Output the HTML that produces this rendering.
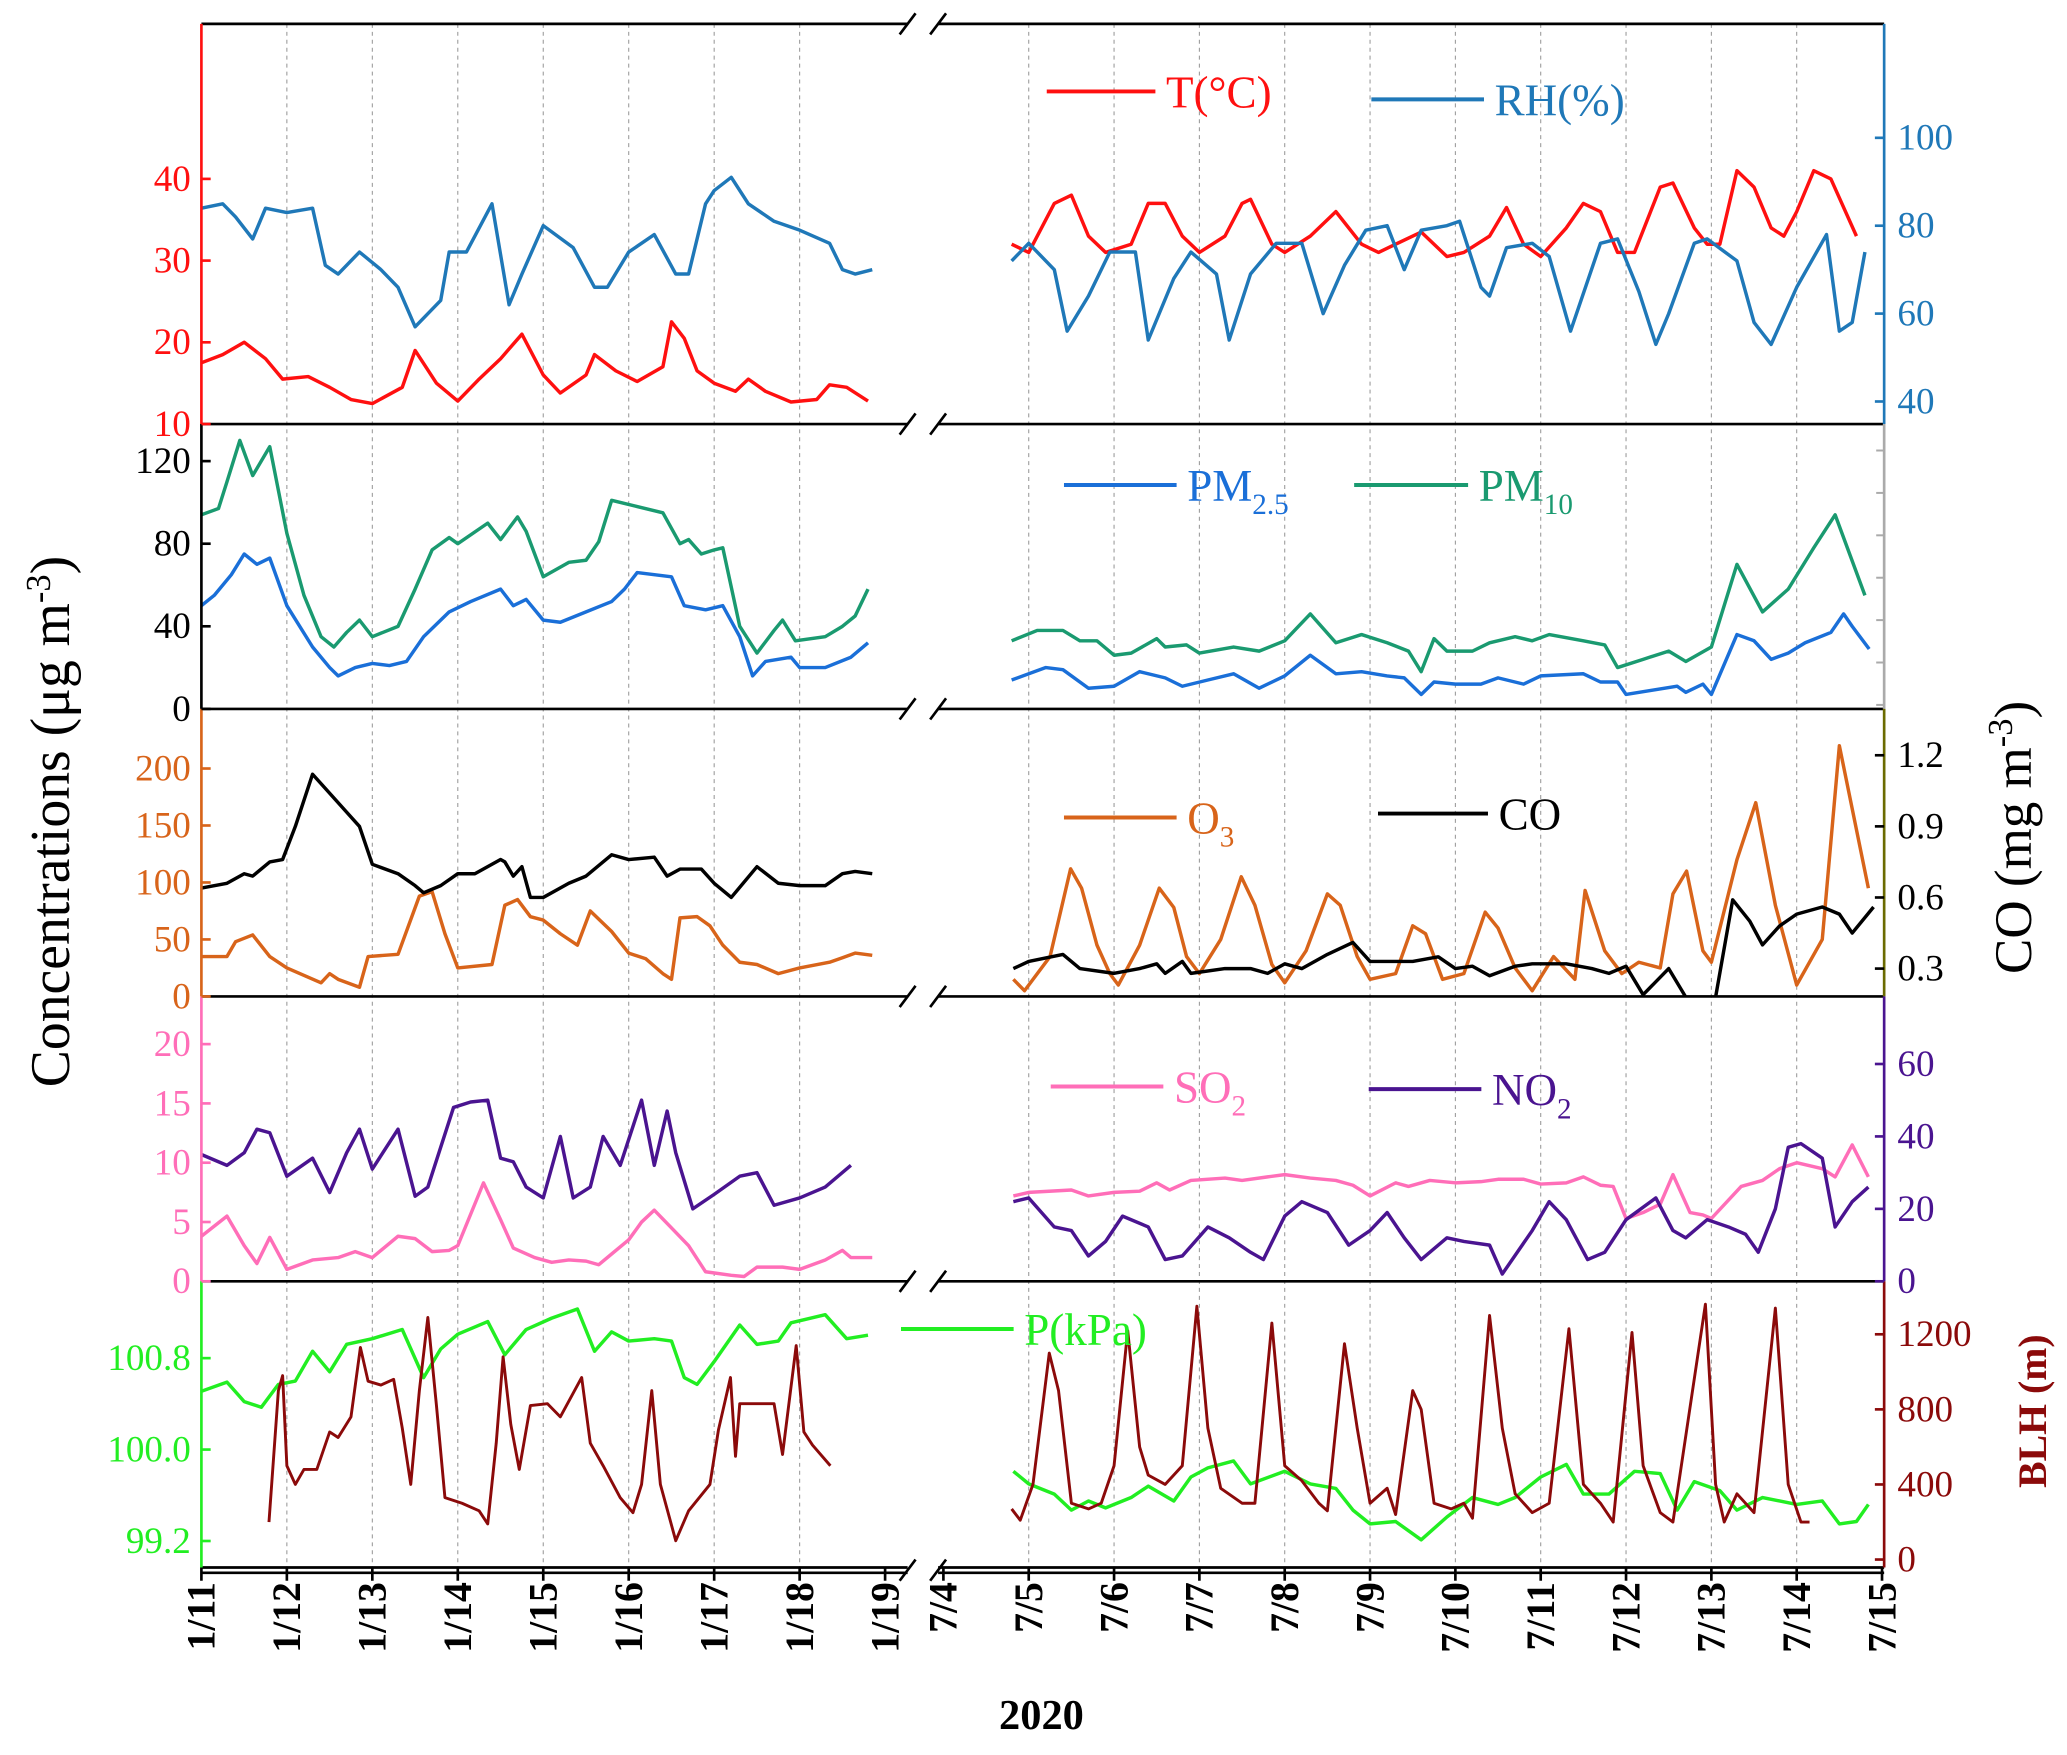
<!DOCTYPE html>
<html><head><meta charset="utf-8"><style>
html,body{margin:0;padding:0;background:#fff}
svg{display:block}
text{font-family:"Liberation Serif",serif}
</style></head><body>
<svg id="chart" width="2067" height="1755" viewBox="0 0 1560 1324.5" xmlns="http://www.w3.org/2000/svg"></svg>
<script>
// ---------- DATA (days since 1/11 for winter, since 7/4 for summer) ----------
const wTempT=[0,0.25,0.5,0.75,0.95,1.25,1.5,1.75,2.0,2.35,2.5,2.75,3.0,3.25,3.5,3.75,4.0,4.2,4.5,4.6,4.85,5.1,5.4,5.5,5.65,5.8,6.0,6.25,6.4,6.6,6.9,7.2,7.35,7.55,7.8];
const wTempV=[17.5,18.5,20,18,15.5,15.8,14.5,13,12.5,14.5,19,15,12.8,15.5,18,21,16,13.8,16,18.5,16.5,15.2,17,22.5,20.5,16.5,15,14,15.5,14,12.7,13,14.8,14.5,12.8];
const wRhT=[0,0.25,0.4,0.6,0.75,1.0,1.3,1.45,1.6,1.85,2.1,2.3,2.5,2.8,2.9,3.1,3.4,3.6,3.75,4.0,4.35,4.6,4.75,5.0,5.3,5.55,5.7,5.9,6.0,6.2,6.4,6.7,7.0,7.35,7.5,7.65,7.85];
const wRhV=[84,85,82,77,84,83,84,71,69,74,70,66,57,63,74,74,85,62,69,80,75,66,66,74,78,69,69,85,88,91,85,81,79,76,70,69,70];
const sTempT=[0.8,1.0,1.3,1.5,1.7,1.9,2.2,2.4,2.6,2.8,3.0,3.3,3.5,3.6,3.85,4.0,4.3,4.6,4.9,5.1,5.3,5.6,5.9,6.1,6.4,6.6,6.8,7.0,7.3,7.5,7.7,7.9,8.1,8.4,8.55,8.8,8.95,9.1,9.3,9.5,9.7,9.85,10.0,10.2,10.4,10.7];
const sTempV=[32,31,37,38,33,31,32,37,37,33,31,33,37,37.5,32,31,33,36,32,31,32,33.5,30.5,31,33,36.5,32,30.5,34,37,36,31,31,39,39.5,34,32,32,41,39,34,33,36,41,40,33];
const sRhT=[0.8,1.0,1.3,1.45,1.7,1.95,2.25,2.4,2.7,2.9,3.2,3.35,3.6,3.9,4.2,4.45,4.7,4.95,5.2,5.4,5.6,5.9,6.05,6.3,6.4,6.6,6.9,7.1,7.35,7.7,7.9,8.15,8.35,8.5,8.8,8.95,9.3,9.5,9.7,10.0,10.35,10.5,10.65,10.8];
const sRhV=[72,76,70,56,64,74,74,54,68,74,69,54,69,76,76,60,71,79,80,70,79,80,81,66,64,75,76,73,56,76,77,65,53,60,76,77,72,58,53,66,78,56,58,74];

const wPm25T=[0,0.15,0.35,0.5,0.65,0.8,1.0,1.3,1.5,1.6,1.8,2.0,2.2,2.4,2.6,2.9,3.15,3.5,3.65,3.8,4.0,4.2,4.5,4.8,4.95,5.1,5.5,5.65,5.9,6.1,6.3,6.45,6.6,6.9,7.0,7.3,7.6,7.8];
const wPm25V=[50,55,65,75,70,73,50,30,20,16,20,22,21,23,35,47,52,58,50,53,43,42,47,52,58,66,64,50,48,50,35,16,23,25,20,20,25,32];
const wPm10T=[0,0.2,0.3,0.45,0.6,0.8,1.0,1.2,1.4,1.55,1.7,1.85,2.0,2.3,2.5,2.7,2.9,3.0,3.35,3.5,3.7,3.8,4.0,4.3,4.5,4.65,4.8,5.1,5.4,5.6,5.7,5.85,6.0,6.1,6.3,6.5,6.7,6.8,6.95,7.3,7.5,7.65,7.8];
const wPm10V=[94,97,110,130,113,127,85,55,35,30,37,43,35,40,58,77,83,80,90,82,93,86,64,71,72,81,101,98,95,80,82,75,77,78,40,27,38,43,33,35,40,45,58];
const sPm25T=[0.8,1.2,1.4,1.7,2.0,2.3,2.6,2.8,3.1,3.4,3.7,4.0,4.3,4.6,4.9,5.2,5.4,5.6,5.75,6.0,6.3,6.5,6.8,7.0,7.5,7.7,7.9,8.0,8.3,8.6,8.7,8.9,9.0,9.3,9.5,9.7,9.9,10.1,10.4,10.55,10.65,10.85];
const sPm25V=[14,20,19,10,11,18,15,11,14,17,10,16,26,17,18,16,15,7,13,12,12,15,12,16,17,13,13,7,9,11,8,12,7,36,33,24,27,32,37,46,40,29];
const sPm10T=[0.8,1.1,1.4,1.6,1.8,2.0,2.2,2.5,2.6,2.85,3.0,3.4,3.7,4.0,4.3,4.6,4.9,5.2,5.45,5.6,5.75,5.9,6.2,6.4,6.7,6.9,7.1,7.5,7.75,7.9,8.2,8.5,8.7,9.0,9.3,9.6,9.9,10.2,10.45,10.8];
const sPm10V=[33,38,38,33,33,26,27,34,30,31,27,30,28,33,46,32,36,32,28,18,34,28,28,32,35,33,36,33,31,20,24,28,23,30,70,47,58,78,94,55];

const wO3T=[0,0.3,0.4,0.6,0.8,1.0,1.4,1.5,1.6,1.85,1.95,2.3,2.55,2.7,2.85,3.0,3.4,3.55,3.7,3.85,4.0,4.2,4.4,4.55,4.8,5.0,5.2,5.4,5.5,5.6,5.8,5.95,6.1,6.3,6.5,6.75,7.0,7.35,7.5,7.65,7.85];
const wO3V=[35,35,48,54,35,25,12,20,15,8,35,37,88,92,55,25,28,80,85,70,67,55,45,75,57,38,33,20,15,69,70,62,45,30,28,20,25,30,34,38,36];
const wCoT=[0,0.3,0.5,0.6,0.8,0.95,1.1,1.3,1.45,1.7,1.85,2.0,2.3,2.5,2.6,2.8,3.0,3.2,3.5,3.55,3.65,3.75,3.85,4.0,4.3,4.5,4.8,5.0,5.3,5.45,5.6,5.85,6.0,6.2,6.5,6.75,7.0,7.3,7.5,7.65,7.85];
const wCoV=[0.64,0.66,0.70,0.69,0.75,0.76,0.90,1.12,1.06,0.96,0.90,0.74,0.70,0.65,0.62,0.65,0.70,0.70,0.76,0.75,0.69,0.73,0.60,0.60,0.66,0.69,0.78,0.76,0.77,0.69,0.72,0.72,0.66,0.60,0.73,0.66,0.65,0.65,0.70,0.71,0.70];
const sO3T=[0.82,0.95,1.25,1.49,1.62,1.8,1.95,2.05,2.3,2.53,2.7,2.85,3.0,3.25,3.49,3.65,3.85,4.0,4.25,4.5,4.65,4.85,5.0,5.3,5.5,5.65,5.85,6.1,6.35,6.5,6.7,6.9,7.15,7.4,7.52,7.75,7.95,8.15,8.4,8.55,8.71,8.9,9.0,9.3,9.52,9.75,10.0,10.3,10.5,10.84];
const sO3V=[15,5,35,112,95,45,20,10,45,95,78,35,20,50,105,80,28,12,40,90,80,35,15,20,62,55,15,20,74,60,25,5,35,15,93,40,20,30,25,90,110,40,30,120,170,80,10,50,220,95];
const sCoT=[0.82,1.0,1.4,1.6,2.0,2.3,2.5,2.6,2.8,2.9,3.3,3.6,3.8,4.0,4.2,4.5,4.8,5.0,5.5,5.8,6.0,6.2,6.4,6.7,6.9,7.3,7.6,7.8,8.0,8.2,8.5,8.7,9.05,9.25,9.45,9.6,9.8,10.0,10.3,10.5,10.65,10.9];
const sCoV=[0.30,0.33,0.36,0.30,0.28,0.30,0.32,0.28,0.33,0.28,0.30,0.30,0.28,0.32,0.30,0.36,0.41,0.33,0.33,0.35,0.30,0.31,0.27,0.31,0.32,0.32,0.30,0.28,0.31,0.19,0.30,0.18,0.18,0.59,0.50,0.40,0.48,0.53,0.56,0.53,0.45,0.56];

const wSo2T=[0,0.3,0.5,0.65,0.8,1.0,1.3,1.6,1.8,2.0,2.3,2.5,2.7,2.9,3.0,3.3,3.5,3.65,3.9,4.1,4.3,4.5,4.65,4.8,5.0,5.15,5.3,5.5,5.7,5.9,6.2,6.35,6.5,6.8,7.0,7.3,7.5,7.6,7.85];
const wSo2V=[3.8,5.5,3.0,1.5,3.7,1.0,1.8,2.0,2.5,2.0,3.8,3.6,2.5,2.6,3.0,8.3,5.2,2.8,2.0,1.6,1.8,1.7,1.4,2.3,3.5,5.0,6.0,4.5,3.0,0.8,0.5,0.4,1.2,1.2,1.0,1.8,2.6,2.0,2.0];
const wNo2T=[0,0.3,0.5,0.65,0.8,1.0,1.3,1.5,1.7,1.85,2.0,2.3,2.5,2.65,2.95,3.15,3.35,3.5,3.65,3.8,4.0,4.2,4.35,4.55,4.7,4.9,5.15,5.3,5.45,5.55,5.75,6.0,6.3,6.5,6.7,7.0,7.3,7.6];
const wNo2V=[35,32,35.5,42,41,29,34,24.5,35.5,42,31,42,23.5,26,48,49.5,50,34,33,26,23,40,23,26,40,32,50,32,47,35.5,20,24,29,30,21,23,26,32];
const sSo2T=[0.82,1.0,1.5,1.7,2.0,2.3,2.5,2.65,2.9,3.3,3.5,3.8,4.0,4.3,4.6,4.8,5.0,5.3,5.45,5.7,6.0,6.3,6.5,6.8,7.0,7.3,7.5,7.7,7.85,8.0,8.2,8.4,8.55,8.75,8.9,9.0,9.35,9.6,9.8,10.0,10.3,10.45,10.65,10.84];
const sSo2V=[7.2,7.5,7.7,7.2,7.5,7.6,8.3,7.7,8.5,8.7,8.5,8.8,9.0,8.7,8.5,8.1,7.2,8.3,8.0,8.5,8.3,8.4,8.6,8.6,8.2,8.3,8.8,8.1,8.0,5.3,5.8,6.5,9.0,5.8,5.6,5.3,8.0,8.5,9.5,10.0,9.5,8.8,11.5,8.8];
const sNo2T=[0.82,1.0,1.3,1.5,1.7,1.9,2.1,2.4,2.6,2.8,3.1,3.35,3.6,3.75,4.0,4.2,4.5,4.75,5.0,5.2,5.4,5.6,5.9,6.1,6.4,6.55,6.9,7.1,7.3,7.55,7.75,8.0,8.35,8.55,8.7,8.95,9.2,9.4,9.55,9.75,9.9,10.05,10.3,10.45,10.65,10.84];
const sNo2V=[22,23,15,14,7,11,18,15,6,7,15,12,8,6,18,22,19,10,14,19,12,6,12,11,10,2,14,22,17,6,8,17,23,14,12,17,15,13,8,20,37,38,34,15,22,26];

const wPT=[0,0.3,0.5,0.7,0.9,1.1,1.3,1.5,1.7,2.0,2.35,2.6,2.8,3.0,3.35,3.55,3.8,4.1,4.4,4.6,4.8,5.0,5.3,5.5,5.65,5.8,6.0,6.3,6.5,6.75,6.9,7.3,7.55,7.8];
const wPV=[100.51,100.59,100.42,100.37,100.57,100.6,100.86,100.68,100.92,100.97,101.05,100.63,100.88,101.01,101.12,100.83,101.05,101.15,101.23,100.86,101.03,100.95,100.97,100.95,100.63,100.57,100.77,101.09,100.92,100.95,101.11,101.18,100.97,101.0];
const sPT=[0.82,1.0,1.3,1.5,1.7,1.9,2.2,2.4,2.7,2.9,3.1,3.4,3.6,4.0,4.3,4.6,4.8,5.0,5.3,5.6,5.9,6.2,6.5,6.7,7.0,7.3,7.5,7.8,8.1,8.4,8.6,8.8,9.1,9.3,9.6,10.0,10.3,10.5,10.7,10.84];
const sPV=[99.81,99.7,99.61,99.47,99.55,99.49,99.58,99.68,99.55,99.76,99.84,99.9,99.7,99.81,99.7,99.66,99.47,99.35,99.37,99.21,99.41,99.58,99.52,99.58,99.76,99.87,99.61,99.61,99.81,99.79,99.47,99.72,99.64,99.47,99.58,99.52,99.55,99.35,99.37,99.52];
const wBlhT=[0.79,0.9,0.95,1.0,1.1,1.2,1.35,1.5,1.6,1.75,1.86,1.95,2.1,2.25,2.35,2.45,2.55,2.65,2.75,2.85,3.05,3.25,3.35,3.45,3.53,3.62,3.72,3.85,4.05,4.2,4.45,4.55,4.7,4.9,5.05,5.15,5.27,5.37,5.55,5.7,5.95,6.05,6.19,6.25,6.3,6.5,6.7,6.8,6.96,7.05,7.15,7.36];
const wBlhV=[200,900,980,500,400,480,480,680,650,760,1130,950,930,960,700,400,900,1290,820,330,300,260,190,620,1080,720,480,820,830,760,970,620,500,330,250,400,900,400,100,260,400,690,970,550,830,830,830,560,1140,680,610,500];
const sBlhT=[0.8,0.9,1.05,1.24,1.35,1.5,1.7,1.85,2.0,2.16,2.3,2.4,2.6,2.8,2.97,3.1,3.25,3.5,3.65,3.85,4.0,4.2,4.4,4.5,4.7,4.85,5.0,5.2,5.3,5.5,5.6,5.75,5.95,6.1,6.2,6.4,6.55,6.7,6.9,7.1,7.33,7.5,7.7,7.85,8.07,8.2,8.4,8.55,8.93,9.05,9.15,9.3,9.5,9.75,9.9,10.05,10.15];
const sBlhV=[270,210,400,1100,900,300,270,300,500,1220,600,450,400,500,1350,700,380,300,300,1260,500,420,300,260,1150,700,300,380,240,900,800,300,270,300,220,1300,700,350,250,300,1230,400,300,200,1210,500,250,200,1360,400,200,350,250,1340,400,200,200];

const wDayLabels=["1/11","1/12","1/13","1/14","1/15","1/16","1/17","1/18","1/19"];
const sDayLabels=["7/4","7/5","7/6","7/7","7/8","7/9","7/10","7/11","7/12","7/13","7/14","7/15"];

// ---------- AXES ----------
const NS="http://www.w3.org/2000/svg";
const svg=document.getElementById('chart');
const L0=152,L1=685,R0=708,R1=1422;
const xW=d=>152+64.5*d, xS=d=>712+64.4*d;
const panels=[[18,320],[320,535],[535,752],[752,967],[967,1183]];
function yLin(v0,p0,v1,p1){return v=>p0+(v-v0)*(p1-p0)/(v1-v0);}
const yT=yLin(10,320,40,135), yRH=yLin(40,303,100,104), yPM=yLin(0,535,120,348);
const yO3=yLin(0,752,200,580), yCO=yLin(0.3,731,1.2,570), ySO2=yLin(0,967,20,788);
const yNO2=yLin(0,967,60,803), yP=yLin(99.2,1163,100.8,1025), yBLH=yLin(0,1177,1200,1007);

function el(tag,attrs,parent){const e=document.createElementNS(NS,tag);for(const k in attrs)e.setAttribute(k,attrs[k]);(parent||svg).appendChild(e);return e;}

const defs=el('defs',{});
panels.forEach((p,i)=>{
  const c1=el('clipPath',{id:'cw'+i},defs);el('rect',{x:L0,y:p[0],width:L1-L0,height:p[1]-p[0]},c1);
  const c2=el('clipPath',{id:'cs'+i},defs);el('rect',{x:R0,y:p[0],width:R1-R0,height:p[1]-p[0]},c2);
});

const grid=el('g',{stroke:'#999','stroke-width':0.8,'stroke-dasharray':'3,3'});


for(let d=1;d<=7;d++) el('line',{x1:xW(d),y1:18,x2:xW(d),y2:1183},grid);
for(let d=1;d<=10;d++) el('line',{x1:xS(d),y1:18,x2:xS(d),y2:1183},grid);

function series(ts,vs,xf,yf,color,panel,side,name,w){
  let d='';ts.forEach((t,i)=>{d+=(i?'L':'M')+xf(t).toFixed(1)+','+yf(vs[i]).toFixed(1);});
  const p=el('path',{d:d,fill:'none',stroke:color,'stroke-width':w||2.6,'stroke-linejoin':'round','clip-path':'url(#c'+side+panel+')'});
  
  
}
const cT='#ff1010',cRH='#1f78b8',c25='#1a6fd8',c10='#1a9a70',cO3='#d8641a',cCO='#000',cSO2='#ff6eb8',cNO2='#4a1490',cP='#22ee22',cB='#8b0a0a';
series(wTempT,wTempV,xW,yT,cT,0,'w','temperature-line-winter');
series(wRhT,wRhV,xW,yRH,cRH,0,'w','rh-line-winter');
series(sTempT,sTempV,xS,yT,cT,0,'s','temperature-line-summer');
series(sRhT,sRhV,xS,yRH,cRH,0,'s','rh-line-summer');
series(wPm25T,wPm25V,xW,yPM,c25,1,'w','pm25-line-winter');
series(wPm10T,wPm10V,xW,yPM,c10,1,'w','pm10-line-winter');
series(sPm25T,sPm25V,xS,yPM,c25,1,'s','pm25-line-summer');
series(sPm10T,sPm10V,xS,yPM,c10,1,'s','pm10-line-summer');
series(wO3T,wO3V,xW,yO3,cO3,2,'w','o3-line-winter');
series(wCoT,wCoV,xW,yCO,cCO,2,'w','co-line-winter');
series(sO3T,sO3V,xS,yO3,cO3,2,'s','o3-line-summer');
series(sCoT,sCoV,xS,yCO,cCO,2,'s','co-line-summer');
series(wSo2T,wSo2V,xW,ySO2,cSO2,3,'w','so2-line-winter');
series(wNo2T,wNo2V,xW,yNO2,cNO2,3,'w','no2-line-winter');
series(sSo2T,sSo2V,xS,ySO2,cSO2,3,'s','so2-line-summer');
series(sNo2T,sNo2V,xS,yNO2,cNO2,3,'s','no2-line-summer');
series(wPT,wPV,xW,yP,cP,4,'w','pressure-line-winter');
series(wBlhT,wBlhV,xW,yBLH,cB,4,'w','blh-line-winter',2.2);
series(sPT,sPV,xS,yP,cP,4,'s','pressure-line-summer');
series(sBlhT,sBlhV,xS,yBLH,cB,4,'s','blh-line-summer',2.2);

const frame=el('g',{stroke:'#000','stroke-width':2,fill:'none'});


[18,320,535,752,967,1183].forEach(y=>{el('line',{x1:L0,y1:y,x2:L1,y2:y},frame);el('line',{x1:R0,y1:y,x2:R1,y2:y},frame);});
el('line',{x1:L0,y1:1187,x2:L1,y2:1187},frame);el('line',{x1:R0,y1:1187,x2:R1,y2:1187},frame);
[18,320,535,752,967,1185].forEach(y=>{el('line',{x1:L1-6,y1:y+8,x2:L1+6,y2:y-8},frame);el('line',{x1:R0-6,y1:y+8,x2:R0+6,y2:y-8},frame);});
const lc=[cT,'#000',cO3,cSO2,cP], rc=[cRH,'#aaa','#6b6b00',cNO2,cB];
panels.forEach((p,i)=>{
  const a=el('line',{x1:L0,y1:p[0],x2:L0,y2:p[1],stroke:lc[i],'stroke-width':2});
  
  
  const b=el('line',{x1:R1,y1:p[0],x2:R1,y2:p[1],stroke:rc[i],'stroke-width':2});
  
  
});

function yTicks(vals,yf,x,color,anchor,fmt,dir){
  vals.forEach(v=>{
    const y=yf(v);
    el('line',{x1:x,y1:y,x2:x+dir*7,y2:y,stroke:color,'stroke-width':2});
    const t=el('text',{x:anchor==='end'?x-8:x+10,y:y+9,'text-anchor':anchor,'font-size':28,fill:color});
    t.textContent=fmt?fmt(v):String(v);
    
    
  });
}
const tT=[10,20,30,40], tRH=[40,60,80,100], tPM=[0,40,80,120], tO3=[0,50,100,150,200], tCO=[0.3,0.6,0.9,1.2], tSO2=[0,5,10,15,20], tNO2=[0,20,40,60], tP=[99.2,100.0,100.8], tB=[0,400,800,1200];
yTicks(tT,yT,L0,cT,'end',null,1);
yTicks(tRH,yRH,R1,cRH,'start',null,-1);
yTicks(tPM,yPM,L0,'#000','end',null,1);
yTicks(tO3,yO3,L0,cO3,'end',null,1);
yTicks(tCO,yCO,R1,'#000','start',v=>v.toFixed(1),-1);
yTicks(tSO2,ySO2,L0,cSO2,'end',null,1);
yTicks(tNO2,yNO2,R1,cNO2,'start',null,-1);
yTicks(tP,yP,L0,cP,'end',v=>v.toFixed(1),1);
yTicks(tB,yBLH,R1,cB,'start',null,-1);
for(let y=340;y<535;y+=32){el('line',{x1:R1,y1:y,x2:R1-6,y2:y,stroke:'#aaa','stroke-width':1.5});}

function xLabels(labels,xf){
  labels.forEach((s,i)=>{
    const x=xf(i);
    el('line',{x1:x,y1:1183,x2:x,y2:1193,stroke:'#000','stroke-width':2});
    const t=el('text',{x:0,y:0,transform:`translate(${x+10},1194) rotate(-90)`,'text-anchor':'end','font-size':30,'font-weight':'bold',fill:'#000'});
    t.textContent=s;
    
    
  });
}
xLabels(wDayLabels,xW);
xLabels(sDayLabels,xS);

function txt(attrs,content,name,html){const t=el('text',attrs);if(html)t.innerHTML=content;else t.textContent=content;return t;}
txt({x:786,y:1305,'text-anchor':'middle','font-size':32,'font-weight':'bold'},'2020','x-axis-year-label');
txt({transform:'translate(52,620) rotate(-90)','text-anchor':'middle','font-size':42},'Concentrations (μg m<tspan baseline-shift="super" font-size="26">-3</tspan>)','y-axis-title-left',true);
txt({transform:'translate(1533,632) rotate(-90)','text-anchor':'middle','font-size':40},'CO (mg m<tspan baseline-shift="super" font-size="26">-3</tspan>)','y-axis-title-co',true);
txt({transform:'translate(1544,1065) rotate(-90)','text-anchor':'middle','font-size':30,'font-weight':'bold',fill:cB},'BLH (m)','y-axis-title-blh');

function legend(x1,x2,y,color,label,name,sub){
  const g=el('g',{});
  
  
  el('line',{x1:x1,y1:y,x2:x2,y2:y,stroke:color,'stroke-width':3},g);
  const t=el('text',{x:x2+8,y:y+12,'font-size':34,fill:color},g);
  t.innerHTML=label+(sub?`<tspan font-size="22" dy="10">${sub}</tspan>`:'');
}
legend(790,872,69,cT,'T(°C)','legend-temperature');
legend(1035,1120,75,cRH,'RH(%)','legend-rh');
legend(803,888,366,c25,'PM','legend-pm25','2.5');
legend(1022,1108,366,c10,'PM','legend-pm10','10');
legend(803,888,617,cO3,'O','legend-o3','3');
legend(1040,1123,614,cCO,'CO','legend-co');
legend(793,878,820,cSO2,'SO','legend-so2','2');
legend(1033,1118,822,cNO2,'NO','legend-no2','2');
legend(680,765,1003,cP,'P(kPa)','legend-pressure');
</script>
</body></html>
